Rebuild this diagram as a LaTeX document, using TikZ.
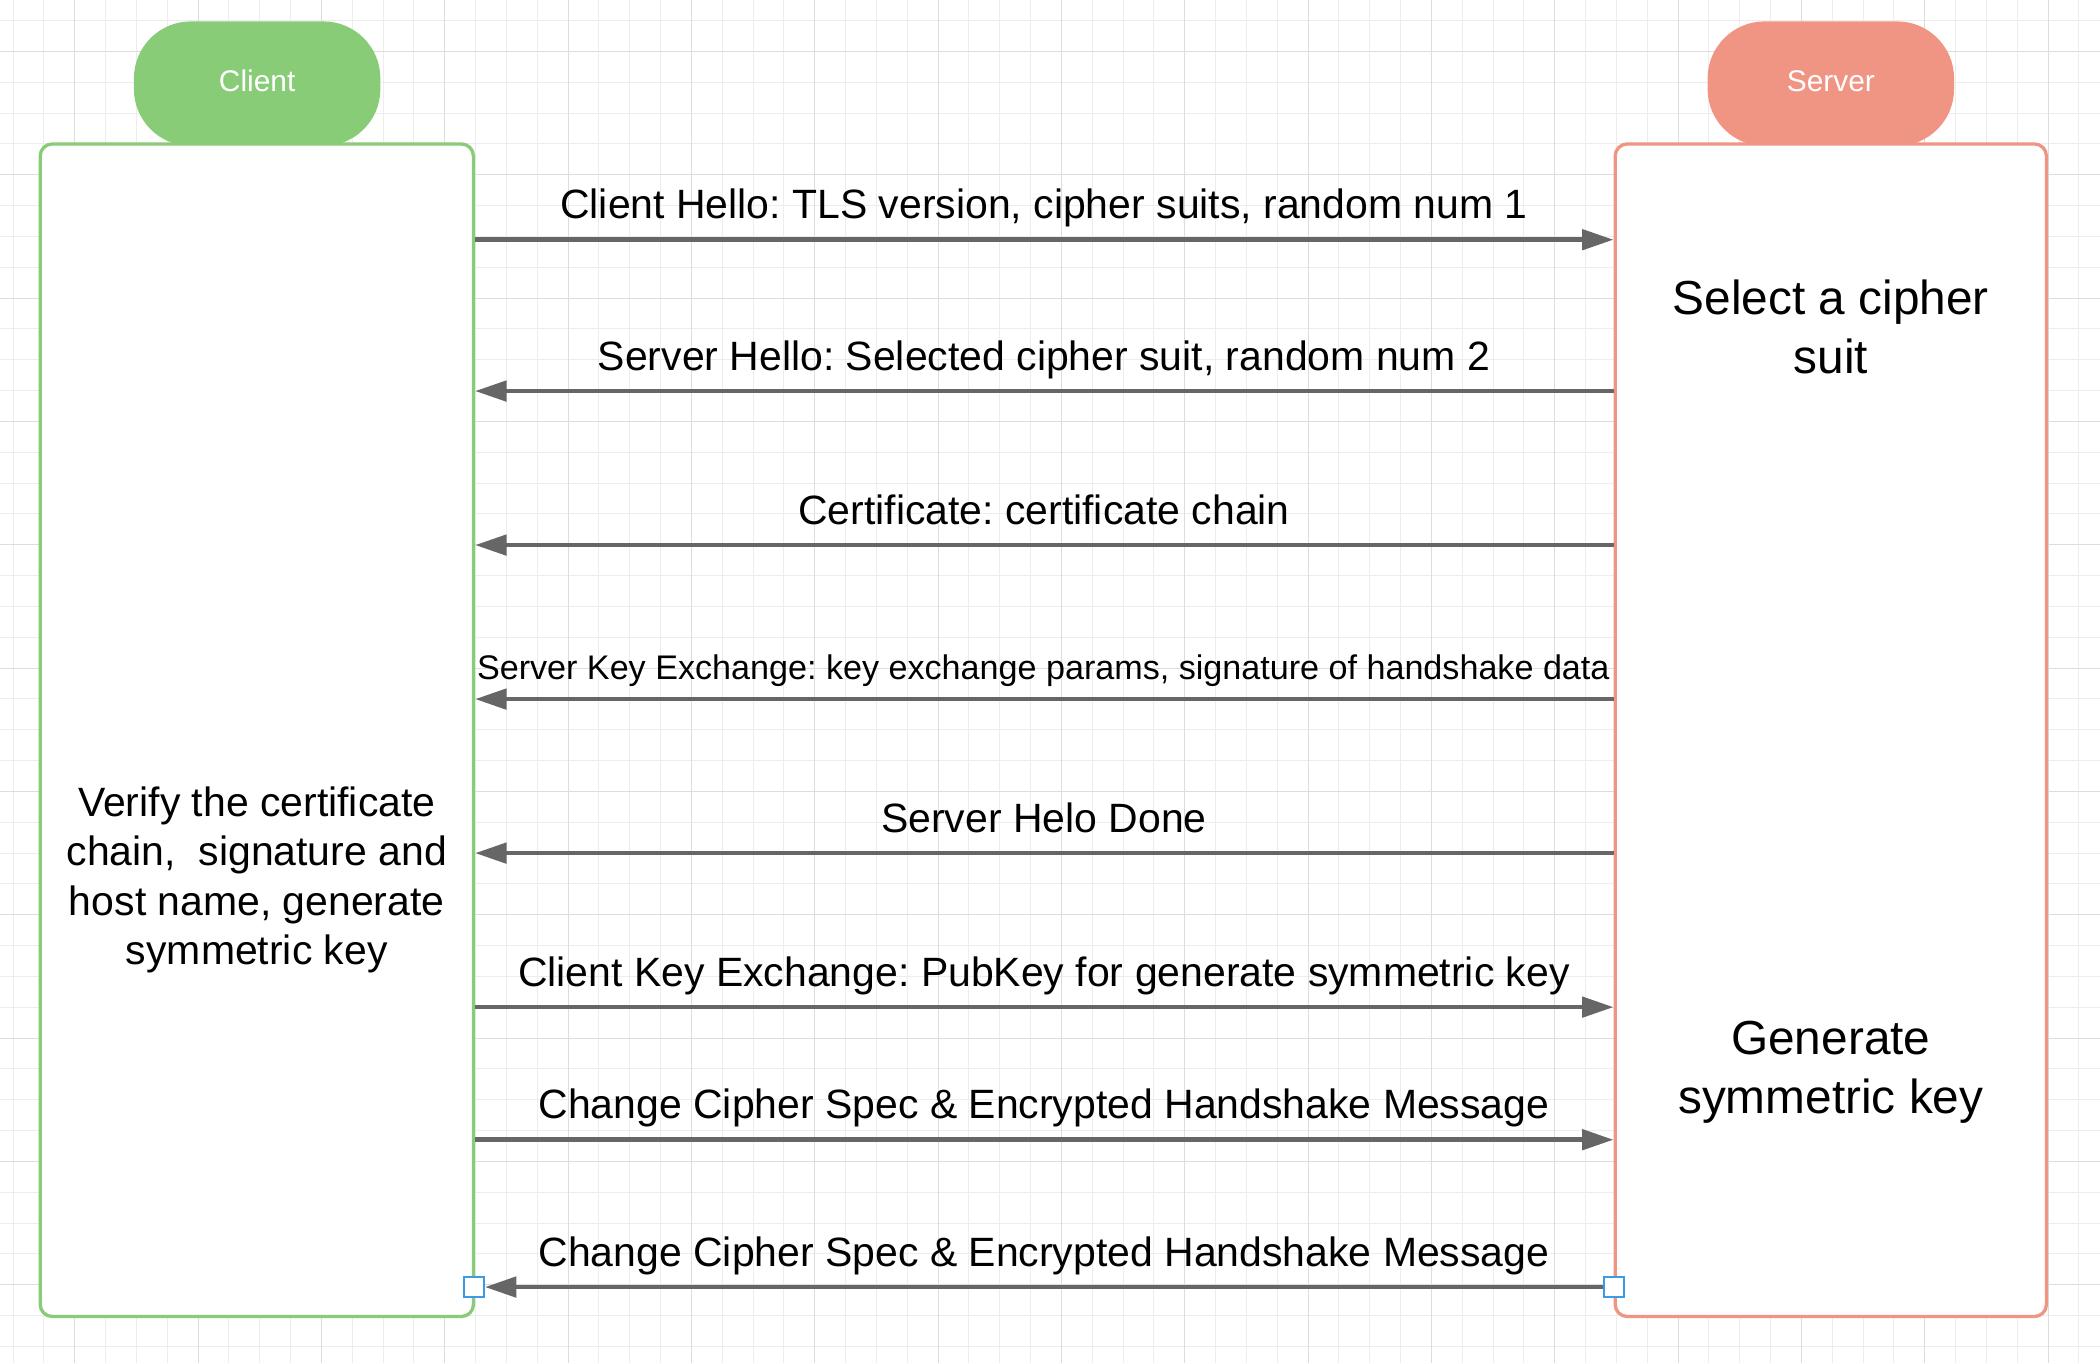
\documentclass[tikz,border=0pt]{standalone}
\usepackage{fontspec}
\setmainfont{Liberation Sans}
\frenchspacing
\usetikzlibrary{arrows.meta}
\definecolor{clientgreen}{HTML}{88CC77}
\definecolor{serverred}{HTML}{F09483}
\definecolor{arrowgray}{HTML}{666666}
\definecolor{handleblue}{HTML}{3D9BE5}
\definecolor{gridminor}{HTML}{EDEDED}
\definecolor{gridmajor}{HTML}{DDDDDD}
\tikzset{
  msg/.style={draw=arrowgray, line width=2pt, -{Triangle[length=0.47cm,width=0.30cm]}},
  msglabel/.style={anchor=base, inner sep=0pt, font=\fontsize{17.4pt}{21pt}\selectfont},
  smalllabel/.style={anchor=base, inner sep=0pt, font=\fontsize{14.5pt}{17pt}\selectfont},
  pill/.style={rounded corners=0.85cm, minimum width=3.68cm, minimum height=1.86cm, text depth=0.08cm, text=white, font=\fontsize{12.7pt}{15pt}\selectfont},
  lifebox/.style={fill=white, line width=1.4pt, rounded corners=0.18cm, minimum height=17.51cm, inner sep=0pt},
  clienttext/.style={align=center, inner sep=0pt, font=\fontsize{17.4pt}{21pt}\selectfont},
  servertext/.style={align=center, inner sep=0pt, font=\fontsize{20.3pt}{25pt}\selectfont},
  handle/.style={draw=handleblue, fill=white, line width=0.9pt, minimum size=0.29cm, inner sep=0pt}
}
\begin{document}
\begin{tikzpicture}
\useasboundingbox (0,0) rectangle (31.36,20.36);
\fill[white] (0,0) rectangle (31.36,20.36);
% background grid
\foreach \x in {0.196,0.6564,...,31.36} \draw[gridminor, line width=0.4pt] (\x,0) -- (\x,20.36);
\foreach \y in {0.254,0.7144,...,20.36} \draw[gridminor, line width=0.4pt] (0,\y) -- (31.36,\y);
\foreach \x in {1.117,2.9586,...,31.36} \draw[gridmajor, line width=0.4pt] (\x,0) -- (\x,20.36);
\foreach \y in {1.175,3.0166,...,20.36} \draw[gridmajor, line width=0.4pt] (0,\y) -- (31.36,\y);

\node[pill, fill=clientgreen] (client) at (3.84,19.11) {Client};
\node[pill, fill=serverred] (server) at (27.34,19.11) {Server};

\node[lifebox, draw=clientgreen, minimum width=6.47cm] (cbox) at (3.835,9.455) {};
\node[lifebox, draw=serverred, minimum width=6.44cm] (sbox) at (27.34,9.455) {};

\node[clienttext] (verify) at (3.835,7.22) {Verify the certificate\\chain,\ \ signature and\\host name, generate\\symmetric key};
\node[servertext] (select) at (27.34,15.48) {Select a cipher\\suit};
\node[servertext] (generate) at (27.34,4.35) {Generate\\symmetric key};

\node[msglabel] (hello) at (15.59,17.09) {Client Hello: TLS version, cipher suits, random num 1};
\draw[msg] (cbox.east |- 0,16.78) -- (sbox.west |- 0,16.78);
\node[msglabel] (shello) at (15.59,14.83) {Server Hello: Selected cipher suit, random num 2};
\draw[msg] (sbox.west |- 0,14.52) -- (cbox.east |- 0,14.52);
\node[msglabel] (cert) at (15.59,12.53) {Certificate: certificate chain};
\draw[msg] (sbox.west |- 0,12.22) -- (cbox.east |- 0,12.22);
\node[smalllabel] (skx) at (15.58,10.22) {Server Key Exchange: key exchange params, signature of handshake data};
\draw[msg] (sbox.west |- 0,9.92) -- (cbox.east |- 0,9.92);
\node[msglabel] (done) at (15.59,7.93) {Server Helo Done};
\draw[msg] (sbox.west |- 0,7.62) -- (cbox.east |- 0,7.62);
\node[msglabel] (ckx) at (15.59,5.63) {Client Key Exchange: PubKey for generate symmetric key};
\draw[msg] (cbox.east |- 0,5.32) -- (sbox.west |- 0,5.32);
\node[msglabel] (cfin) at (15.59,3.65) {Change Cipher Spec \& Encrypted Handshake Message};
\draw[msg] (cbox.east |- 0,3.34) -- (sbox.west |- 0,3.34);
\node[msglabel] (sfin) at (15.59,1.45) {Change Cipher Spec \& Encrypted Handshake Message};
\node[handle] (hc) at (7.08,1.14) {};
\node[handle] (hs) at (24.10,1.14) {};
\draw[msg] (hs) -- (hc);
\end{tikzpicture}
\end{document}
